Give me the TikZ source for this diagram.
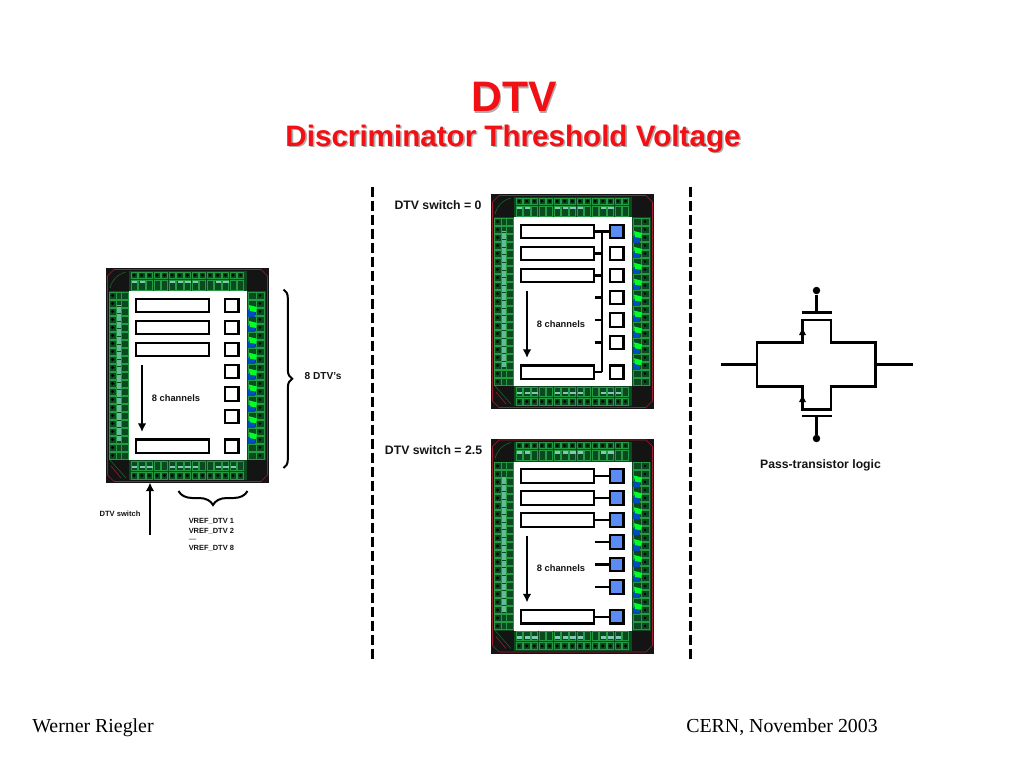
\documentclass[tikz,border=0pt]{standalone}
\usepackage{fontspec}
\setmainfont{Liberation Serif}
\setsansfont{Liberation Sans}
\usetikzlibrary{arrows.meta,decorations.pathreplacing}
\definecolor{pcbg}{HTML}{249A45}
\definecolor{pcbd}{HTML}{0A4A1E}
\definecolor{pcbt}{HTML}{7FC8B8}
\definecolor{pcbr}{HTML}{A02030}
\definecolor{sqblue}{HTML}{5B8CF5}
\definecolor{titlered}{HTML}{F21015}
\tikzset{
  x=0.75pt,y=-0.75pt,
  chanbox/.style={draw=black,line width=1.7pt,fill=white,minimum width=54.75pt,minimum height=10pt,inner sep=0pt},
  sqbox/.style={draw=black,line width=1.7pt,fill=white,minimum width=10.1pt,minimum height=10.1pt,inner sep=0pt},
  onbox/.style={sqbox,fill=sqblue},
  wire/.style={draw=black,line width=1.6pt},
  thickline/.style={draw=black,line width=1.7pt,line join=miter},
  lbl/.style={text=black!92,inner sep=0pt},
  dashline/.style={draw=black,line width=1.8pt,dash pattern=on 8.2pt off 2.3pt},
  flow/.style={draw=black,line width=1.5pt,-{Latex[length=6.5pt,width=6.5pt]}},
  bracey/.style={draw=black,line width=1.5pt,decorate,decoration={brace,amplitude=6.5pt}},
  dotend/.style={circle,fill=black,inner sep=0pt,minimum size=5.6pt},
  padgrid/.style={pcbg,line width=.45pt},
}
% name, x, y : substrate, white core, channel boxes
\newcommand{\pcbchip}[3]{%
\begin{scope}[shift={(#2,#3)}]
  \fill[black!92] (0,0) rectangle (163,215);
  \fill[pcbd] (23,3) rectangle (141,23);
  \fill[pcbd] (23,192) rectangle (141,212);
  \fill[pcbd] (3,23) rectangle (23,192);
  \fill[pcbd] (141,23) rectangle (160,192);
  \foreach \i in {0,...,14}{
    \draw[padgrid] (25+7.6*\i,4) rectangle +(6.2,6.2);
    \draw[padgrid] (25+7.6*\i,12) rectangle +(6.2,10);
    \draw[padgrid] (25+7.6*\i,193) rectangle +(6.2,9);
    \draw[padgrid] (25+7.6*\i,204) rectangle +(6.2,7);
    \fill[black] (28.1+7.6*\i,7.1) circle (1.6);
    \fill[black] (28.1+7.6*\i,207.5) circle (1.6);
  }
  \foreach \i in {0,1,5,6,7,8,11,12}{
    \fill[pcbt] (26+7.6*\i,12.5) rectangle +(5.4,2.8);
  }
  \foreach \i in {0,1,2,5,6,7,8,11,12,13}{
    \fill[pcbt] (26+7.6*\i,197.5) rectangle +(5.4,2.8);
  }
  \foreach \i in {0,...,20}{
    \draw[padgrid] (3,24+8*\i) rectangle +(7,7);
    \draw[padgrid] (10,24+8*\i) rectangle +(5,7);
    \draw[padgrid] (15,24+8*\i) rectangle +(7,7);
    \fill[black] (6.5,27.5+8*\i) circle (1.6);
  }
  \fill[pcbt!70!pcbg] (11,37) rectangle (15,173);
  \foreach \i in {0,...,17}{\draw[pcbd,line width=.5pt] (11,38+7.6*\i) -- (15,38+7.6*\i);}
  \foreach \i in {0,...,20}{
    \draw[padgrid] (142,24+8*\i) rectangle +(8,7);
    \draw[padgrid] (150,24+8*\i) rectangle +(8,7);
    \fill[black] (154,27.5+8*\i) circle (1.4);
  }
  \foreach \i in {0,...,8}{
    \fill[blue!60!cyan!75!black] (142,42+15.9*\i) rectangle +(7,6.5);
    \fill[green!85!cyan] (143,37+15.9*\i) -- (151,39+15.9*\i) -- (150,44+15.9*\i) -- (144,43+15.9*\i) -- cycle;
  }
  \draw[pcbr,line width=.5pt] (8,1.5) -- (155,1.5) -- (161.5,8) -- (161.5,207) -- (155,213.5) -- (8,213.5) -- (1.5,207) -- (1.5,8) -- cycle;
  \draw[pcbg!70!black,line width=.4pt] (20,4) .. controls (12,6) and (6,12) .. (4,20);
  \draw[pcbg!70!black,line width=.4pt] (4,192) -- (20,210);
  \draw[pcbr,line width=.4pt] (5,198) -- (15,210);
  \fill[white] (23,23) rectangle (141,192);
  \node[chanbox] (#1r1) at (66.5,37.5) {};
  \node[chanbox] (#1r2) at (66.5,59.5) {};
  \node[chanbox] (#1r3) at (66.5,81.5) {};
  \node[chanbox] (#1r8) at (66.5,178.25) {};
  \coordinate (#1atop) at (36,97);
  \coordinate (#1abot) at (36,164);
  \draw[flow] (#1atop) -- (#1abot);
  \node[lbl,font=\sffamily\bfseries\fontsize{7}{8}\selectfont] (#1lab) at (70,130) {8 channels};
\end{scope}}
\begin{document}
\begin{tikzpicture}
\useasboundingbox (0,0) rectangle (1024,768);
\fill[white] (0,0) rectangle (1024,768);
% title
\foreach \dx/\col in {1.6/black!32,0/titlered}{
  \node[anchor=base,inner sep=0pt,text=\col,font=\sffamily\bfseries\fontsize{32}{36}\selectfont] at (514+\dx,111.5+\dx) {DTV};
  \node[anchor=base,inner sep=0pt,text=\col,font=\sffamily\bfseries\fontsize{22.2}{26}\selectfont] at (513+\dx,146+\dx) {Discriminator Threshold Voltage};
}
% separators
\coordinate (d1a) at (372.5,186.5); \coordinate (d1b) at (372.5,661);
\coordinate (d2a) at (690.5,186.5); \coordinate (d2b) at (690.5,661);
\draw[dashline] (d1a) -- (d1b);
\draw[dashline] (d2a) -- (d2b);
% left chip
\pcbchip{a}{106}{268}
\begin{scope}[shift={(106,268)}]
  \foreach \n/\y in {1/37.5,2/59.5,3/81.5,4/103.5,5/126,6/148.5,8/178.25}{\node[sqbox] (as\n) at (125.75,\y) {};}
\end{scope}
% upper chip
\pcbchip{b}{491}{194}
\begin{scope}[shift={(491,194)}]
  \node[onbox] (bs1) at (125.75,37.5) {};
  \foreach \n/\y in {2/59.5,3/81.5,4/103.5,5/126,6/148.5,8/178.25}{\node[sqbox] (bs\n) at (125.75,\y) {};}
  \coordinate (bbt) at (110.7,37.5);
  \coordinate (bbb) at (110.7,178.25);
\end{scope}
\draw[wire] (br1.east) -- (bs1.west);
\draw[wire] (bbt) -- (bbb);
\draw[wire] (br2.east) -- (bbt |- br2.east);
\draw[wire] (br3.east) -- (bbt |- br3.east);
\draw[wire] (br8.east) -- (bbt |- br8.east);
\foreach \n in {4,5,6}{
  \coordinate (bst\n) at (br3.east |- bs\n.west);
  \draw[wire] (bst\n) -- (bbt |- bst\n);
}
% lower chip
\pcbchip{c}{491}{438.5}
\begin{scope}[shift={(491,438.5)}]
  \foreach \n/\y in {1/37.5,2/59.5,3/81.5,4/103.5,5/126,6/148.5,8/178.25}{\node[onbox] (cs\n) at (125.75,\y) {};}
\end{scope}
\foreach \n in {1,2,3,8}{\draw[wire] (cr\n.east) -- (cs\n.west);}
\foreach \n in {4,5,6}{
  \coordinate (cst\n) at (cr3.east |- cs\n.west);
  \draw[wire] (cst\n) -- (cs\n.west);
}
% labels of the right hand chips
\node[lbl,font=\sffamily\bfseries\fontsize{9.2}{11}\selectfont] (sw0) at (438,205.5) {DTV switch = 0};
\node[lbl,font=\sffamily\bfseries\fontsize{9.2}{11}\selectfont] (sw25) at (433.5,450) {DTV switch = 2.5};
% left chip annotations
\coordinate (bra1) at (283.5,289.5); \coordinate (bra2) at (283.5,468);
\draw[bracey] (bra1) -- (bra2);
\node[lbl,font=\sffamily\bfseries\fontsize{7.6}{9}\selectfont] (dtvs) at (323,376.5) {8 DTV's};
\coordinate (brb1) at (247.5,491); \coordinate (brb2) at (178.5,491);
\draw[bracey,decoration={amplitude=10.5pt}] (brb1) -- (brb2);
\coordinate (swa) at (150,534.5); \coordinate (swb) at (150,482.5);
\draw[flow,line width=1.7pt] (swa) -- (swb);
\node[lbl,font=\sffamily\bfseries\fontsize{5.7}{7}\selectfont] (swl) at (120,514) {DTV switch};
\node[lbl,anchor=west,font=\sffamily\bfseries\fontsize{5.6}{7}\selectfont] (vr1) at (188.5,521) {VREF\_DTV 1};
\node[lbl,anchor=west,font=\sffamily\bfseries\fontsize{5.6}{7}\selectfont] (vr2) at (188.5,531) {VREF\_DTV 2};
\node[lbl,anchor=west,font=\sffamily\fontsize{5.6}{7}\selectfont] (vrd) at (188.5,540) {---};
\node[lbl,anchor=west,font=\sffamily\bfseries\fontsize{5.6}{7}\selectfont] (vr8) at (188.5,548.5) {VREF\_DTV 8};
% pass transistor
\coordinate (inl) at (720.5,364.5); \coordinate (inr) at (757,364.5);
\coordinate (outl) at (875.5,364.5); \coordinate (outr) at (912.5,364.5);
\draw[thickline] (inl) -- (inr);
\draw[thickline] (outl) -- (outr);
\draw[thickline] (757,342.5) -- (802.5,342.5) -- (802.5,320) -- (831,320) -- (831,342.5) -- (875.5,342.5) -- (875.5,386.5) -- (831,386.5) -- (831,409.5) -- (802.5,409.5) -- (802.5,386.5) -- (757,386.5) -- cycle;
\coordinate (g1l) at (802,312.5); \coordinate (g1r) at (831.5,312.5);
\coordinate (g2l) at (802,416); \coordinate (g2r) at (831.5,416);
\draw[thickline] (g1l) -- (g1r);
\draw[thickline] (g2l) -- (g2r);
\node[dotend] (dot1) at (816.5,290.5) {};
\node[dotend] (dot2) at (816.5,438.5) {};
\draw[thickline] (dot1) -- (dot1 |- g1l);
\draw[thickline] (dot2) -- (dot2 |- g2l);
\fill[black] (802.5,328.5) -- (806,335) -- (799,335) -- cycle;
\fill[black] (802.5,395.5) -- (806,402) -- (799,402) -- cycle;
\node[lbl,font=\sffamily\bfseries\fontsize{9.15}{11}\selectfont] (ptl) at (820.5,465.5) {Pass-transistor logic};
% footer
\node[anchor=base west,inner sep=0pt,font=\fontsize{14.9}{18}\selectfont] (auth) at (32,732.5) {Werner Riegler};
\node[anchor=base west,inner sep=0pt,font=\fontsize{14.9}{18}\selectfont] (lab) at (686,732.5) {CERN, November 2003};
\end{tikzpicture}
\end{document}
